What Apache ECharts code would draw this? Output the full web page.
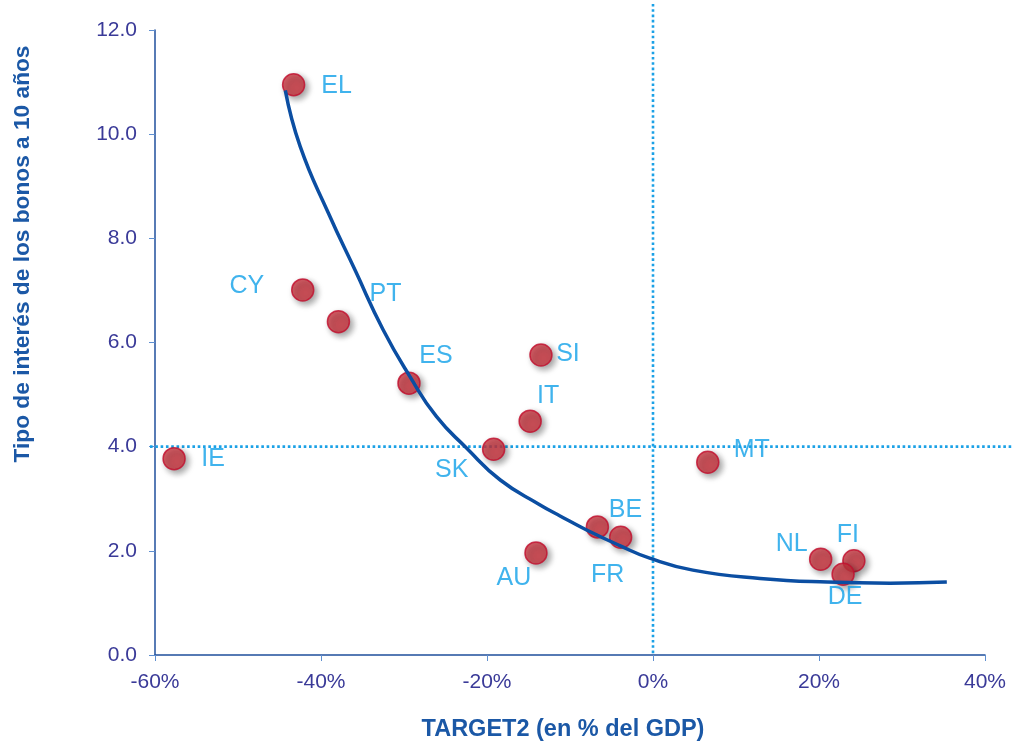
<!DOCTYPE html>
<html><head><meta charset="utf-8">
<script src="https://cdn.jsdelivr.net/npm/echarts@6/dist/echarts.min.js"></script>
<style>html,body{margin:0;padding:0;background:#fff}#c{width:1012px;height:744px}</style>
</head><body><div id="c"></div>
<script>
// ---- data ----
const countries = ['EL','CY','PT','ES','SI','IT','SK','IE','MT','AU','BE','FR','NL','FI','DE'];
const target2   = [-43.3,-42.2,-37.9,-29.4,-13.5,-14.8,-19.2,-57.7,6.6,-14.1,-6.7,-3.9,20.2,24.2,22.9];
const bondYield = [10.95,7.01,6.40,5.22,5.76,4.49,3.95,3.77,3.70,1.96,2.46,2.26,1.84,1.81,1.55];
const fitX = [-44.3,-42.5,-39.1,-35.9,-32.5,-29.3,-26.1,-22.5,-18.4,-13.6,-11.2,-8.0,-4.0,-0.4,4.8,12.9,21.0,28.6,35.4];
const fitY = [10.84,9.76,8.48,7.39,6.24,5.35,4.58,3.98,3.36,2.88,2.67,2.40,2.10,1.86,1.63,1.47,1.40,1.38,1.40];
const xTicks = [-60,-40,-20,0,20,40];
const yTicks = [0,2,4,6,8,10,12];
const refX = 0, refY = 4;
const xTitle = 'TARGET2 (en % del GDP)';
const yTitle = 'Tipo de interés de los bonos a 10 años';
const luxText = 'LUX\n(227%)';
const luxPos = [39.0, 2.31];

// label offsets (style only)
const labelOffsets = {EL:[43,1],CY:[-56,-4],PT:[47,-28],ES:[27,-27],SI:[27,-1],IT:[18,-25],SK:[-42,21],
  IE:[39,0],MT:[44,-12],AU:[-22,25],BE:[28,-17],FR:[-13,38],NL:[-29,-15],FI:[-6,-26],DE:[2,23]};

const FONT = 'Liberation Sans, Arial, sans-serif';
const labelBlue = '#10a0e8';
const titleBlue = '#1b58a6';
const refColor = '#1ba1e6';
const chart = echarts.init(document.getElementById('c'), null, {renderer:'canvas'});
const pts = countries.map((c,i)=>({
  value:[target2[i], bondYield[i]], name:c,
  label:{show:true, formatter:c, position:'inside', offset:labelOffsets[c], color:labelBlue,
         fontSize:25, fontFamily:FONT, align:'center', verticalAlign:'middle'}
}));
chart.setOption({
  animation:false,
  grid:{left:155, right:27, top:30, bottom:89},
  xAxis:{type:'value', min:xTicks[0], max:xTicks[xTicks.length-1], interval:20,
    axisLine:{onZero:false, lineStyle:{color:'#1f4f9c', width:1.5}},
    axisTick:{show:true, length:6, lineStyle:{color:'#5f8fd0', width:1}},
    axisLabel:{formatter:v=>v+'%', color:'#3a3a98', fontSize:21, fontFamily:FONT, margin:17},
    splitLine:{show:false}
  },
  yAxis:{type:'value', min:yTicks[0], max:yTicks[yTicks.length-1], interval:2,
    axisLine:{show:true, onZero:false, lineStyle:{color:'#1f4f9c', width:1.5}},
    axisTick:{show:true, length:6, lineStyle:{color:'#5f8fd0', width:1}},
    axisLabel:{formatter:v=>v.toFixed(1), color:'#3a3a98', fontSize:21, fontFamily:FONT, margin:18},
    splitLine:{show:false}
  },
  series:[
    {type:'scatter', z:3, symbolSize:22, data:pts,
     itemStyle:{color:'#cc3640', borderColor:'#c20f2e', borderWidth:1.5,
       shadowBlur:6, shadowColor:'rgba(0,0,0,0.45)', shadowOffsetX:3, shadowOffsetY:3}},
    {type:'line', z:4, silent:true, symbol:'none', smooth:0.5,
     data:fitX.map((x,i)=>[x,fitY[i]]),
     lineStyle:{color:'#0b4ea2', width:3.5}},
    {type:'scatter', z:5, silent:true, clip:false, symbol:'none', data:[luxPos],
     label:{show:true, formatter:luxText, position:'inside', color:labelBlue, fontSize:20,
       lineHeight:26, fontFamily:FONT, align:'center', verticalAlign:'middle'}}
  ]
});
// reference lines and axis titles placed through the chart's own scales
const p = (x,y)=>chart.convertToPixel({gridIndex:0},[x,y]);
const vTop = p(refX, 12.5), vBot = p(refX, 0);
const hL = p(-60.6, refY), hR = p(43.4, refY);
const gx = p(-10, 0), gy = p(0, 7.7);
chart.setOption({graphic:[
  {type:'line', z:1, silent:true, shape:{x1:vTop[0],y1:vTop[1],x2:vBot[0],y2:vBot[1]},
   style:{stroke:refColor, lineWidth:2.6, lineDash:[2.6,2.7]}},
  {type:'line', z:1, silent:true, shape:{x1:hL[0],y1:hL[1],x2:hR[0],y2:hR[1]},
   style:{stroke:refColor, lineWidth:2.6, lineDash:[2.6,2.7]}},
  {type:'text', silent:true, x:gx[0]-7, y:730,
   style:{text:xTitle, fill:titleBlue, font:'bold 23.5px '+FONT, textAlign:'center', textVerticalAlign:'middle'}},
  {type:'text', silent:true, x:23, y:gy[1], rotation:Math.PI/2,
   style:{text:yTitle, fill:titleBlue, font:'bold 22.7px '+FONT, textAlign:'center', textVerticalAlign:'middle'}}
]});
</script></body></html>
